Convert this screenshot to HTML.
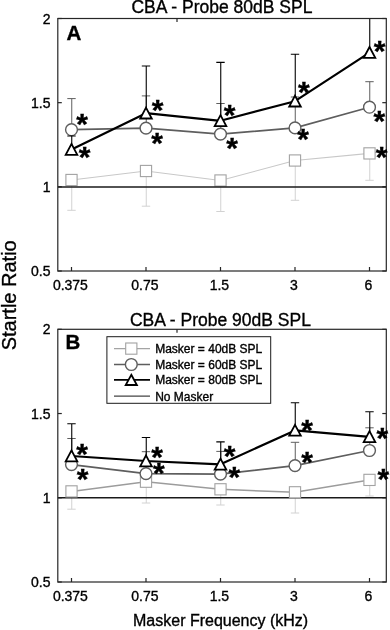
<!DOCTYPE html><html><head><meta charset="utf-8"><style>
html,body{margin:0;padding:0;background:#fff;width:390px;height:630px;overflow:hidden}
svg{display:block;will-change:transform}
text{font-family:"Liberation Sans",sans-serif;fill:#000;stroke:#000;stroke-width:.35px}
.ti{font-size:17.5px}
.tk{font-size:14px}
.lg{font-size:12px}
.xl{font-size:16px}
.yl{font-size:20px}
.pl{font-size:20.5px;font-weight:bold}
.st{font-size:30px;font-weight:bold;text-anchor:middle}
.ax{stroke:#262626;stroke-width:1.2;fill:none}
</style></head><body><svg width="390" height="630" viewBox="0 0 390 630"><rect width="390" height="630" fill="#fff"/><text x="221.9" y="12.8" class="ti" text-anchor="middle">CBA - Probe 80dB SPL</text><text x="50.5" y="23.5" class="tk" text-anchor="end">2</text><line x1="57.8" y1="18.50" x2="61.8" y2="18.50" class="ax"/><line x1="386.3" y1="18.50" x2="382.3" y2="18.50" class="ax"/><text x="50.5" y="107.7" class="tk" text-anchor="end">1.5</text><line x1="57.8" y1="102.67" x2="61.8" y2="102.67" class="ax"/><line x1="386.3" y1="102.67" x2="382.3" y2="102.67" class="ax"/><text x="50.5" y="191.8" class="tk" text-anchor="end">1</text><line x1="57.8" y1="186.83" x2="61.8" y2="186.83" class="ax"/><line x1="386.3" y1="186.83" x2="382.3" y2="186.83" class="ax"/><text x="50.5" y="276.0" class="tk" text-anchor="end">0.5</text><line x1="57.8" y1="271.00" x2="61.8" y2="271.00" class="ax"/><line x1="386.3" y1="271.00" x2="382.3" y2="271.00" class="ax"/><line x1="71.5" y1="271" x2="71.5" y2="267" class="ax"/><text x="70.4" y="289.5" class="tk" text-anchor="middle">0.375</text><line x1="146" y1="271" x2="146" y2="267" class="ax"/><text x="144.9" y="289.5" class="tk" text-anchor="middle">0.75</text><line x1="220.5" y1="271" x2="220.5" y2="267" class="ax"/><text x="219.4" y="289.5" class="tk" text-anchor="middle">1.5</text><line x1="295" y1="271" x2="295" y2="267" class="ax"/><text x="293.9" y="289.5" class="tk" text-anchor="middle">3</text><line x1="369.5" y1="271" x2="369.5" y2="267" class="ax"/><text x="368.4" y="289.5" class="tk" text-anchor="middle">6</text><line x1="177" y1="18.5" x2="177" y2="22.0" class="ax"/><clipPath id="cA"><rect x="57.8" y="18.5" width="328.5" height="252.5"/></clipPath><g clip-path="url(#cA)"><polyline points="71.5,180 146,171 220.5,180.5 295,160.5 369.5,153.4" fill="none" stroke="#c8c8c8" stroke-width="1.1"/><path d="M71.75 180V210.3M67.3 210.3H75.7" stroke="#d2d2d2" stroke-width="1" fill="none"/><path d="M146.25 171V206.2M141.8 206.2H150.2" stroke="#d2d2d2" stroke-width="1" fill="none"/><path d="M220.75 180.5V211.5M216.3 211.5H224.7" stroke="#d2d2d2" stroke-width="1" fill="none"/><path d="M295.25 160.5V200.3M290.8 200.3H299.2" stroke="#d2d2d2" stroke-width="1" fill="none"/><path d="M369.75 153.4V180.3M365.3 180.3H373.7" stroke="#d2d2d2" stroke-width="1" fill="none"/><rect x="65.9" y="174.4" width="11.2" height="11.2" fill="#fff" stroke="#a2a2a2" stroke-width="1.1"/><rect x="140.4" y="165.4" width="11.2" height="11.2" fill="#fff" stroke="#a2a2a2" stroke-width="1.1"/><rect x="214.9" y="174.9" width="11.2" height="11.2" fill="#fff" stroke="#a2a2a2" stroke-width="1.1"/><rect x="289.4" y="154.9" width="11.2" height="11.2" fill="#fff" stroke="#a2a2a2" stroke-width="1.1"/><rect x="363.9" y="147.8" width="11.2" height="11.2" fill="#fff" stroke="#a2a2a2" stroke-width="1.1"/><line x1="57.8" y1="187" x2="386.3" y2="187" stroke="#1a1a1a" stroke-width="1.6"/><polyline points="71.5,129.7 146,128.1 220.5,134.1 295,127.9 369.5,107.2" fill="none" stroke="#5e5e5e" stroke-width="1.7"/><path d="M71.75 129.7V98.6M67.3 98.6H75.7" stroke="#5e5e5e" stroke-width="1" fill="none"/><path d="M146.25 128.1V95.9M141.8 95.9H150.2" stroke="#5e5e5e" stroke-width="1" fill="none"/><path d="M220.75 134.1V103.5M216.3 103.5H224.7" stroke="#5e5e5e" stroke-width="1" fill="none"/><path d="M295.25 127.9V97M290.8 97H299.2" stroke="#5e5e5e" stroke-width="1" fill="none"/><path d="M369.75 107.2V81.7M365.3 81.7H373.7" stroke="#5e5e5e" stroke-width="1" fill="none"/><circle cx="71.5" cy="129.7" r="5.9" fill="#fff" stroke="#5e5e5e" stroke-width="1.4"/><circle cx="146" cy="128.1" r="5.9" fill="#fff" stroke="#5e5e5e" stroke-width="1.4"/><circle cx="220.5" cy="134.1" r="5.9" fill="#fff" stroke="#5e5e5e" stroke-width="1.4"/><circle cx="295" cy="127.9" r="5.9" fill="#fff" stroke="#5e5e5e" stroke-width="1.4"/><circle cx="369.5" cy="107.2" r="5.9" fill="#fff" stroke="#5e5e5e" stroke-width="1.4"/><polyline points="71.5,149.5 146,113.2 220.5,120.8 295,101.2 369.5,52.6" fill="none" stroke="#000" stroke-width="2.2" stroke-linejoin="round"/><path d="M71.75 149.5V136M67.3 136H75.7" stroke="#000" stroke-width="1.1" fill="none"/><path d="M146.25 113.2V66M141.8 66H150.2" stroke="#000" stroke-width="1.1" fill="none"/><path d="M220.75 120.8V62.4M216.3 62.4H224.7" stroke="#000" stroke-width="1.1" fill="none"/><path d="M295.25 101.2V54.3M290.8 54.3H299.2" stroke="#000" stroke-width="1.1" fill="none"/><path d="M369.75 52.6V10M365.3 10H373.7" stroke="#000" stroke-width="1.1" fill="none"/><path d="M71.5 143.9L77.3 154.8H65.7Z" fill="#fff" stroke="#000" stroke-width="1.8" stroke-linejoin="miter"/><path d="M146 107.60000000000001L151.8 118.5H140.2Z" fill="#fff" stroke="#000" stroke-width="1.8" stroke-linejoin="miter"/><path d="M220.5 115.2L226.3 126.1H214.7Z" fill="#fff" stroke="#000" stroke-width="1.8" stroke-linejoin="miter"/><path d="M295 95.60000000000001L300.8 106.5H289.2Z" fill="#fff" stroke="#000" stroke-width="1.8" stroke-linejoin="miter"/><path d="M369.5 47.0L375.3 57.9H363.7Z" fill="#fff" stroke="#000" stroke-width="1.8" stroke-linejoin="miter"/></g><rect x="57.8" y="18.5" width="328.5" height="252.5" fill="none" class="ax"/><text x="82.1" y="134.0" class="st">*</text><text x="84.7" y="167.2" class="st">*</text><text x="157.5" y="120.4" class="st">*</text><text x="157.1" y="152.8" class="st">*</text><text x="229.6" y="125.1" class="st">*</text><text x="232.0" y="157.5" class="st">*</text><text x="303.9" y="101.6" class="st">*</text><text x="303.0" y="148.8" class="st">*</text><text x="379.6" y="61.1" class="st">*</text><text x="379.3" y="131.1" class="st">*</text><text x="381.7" y="166.9" class="st">*</text><text x="66.6" y="39.6" class="pl">A</text><text x="220.4" y="325.5" class="ti" text-anchor="middle">CBA - Probe 90dB SPL</text><text x="50.5" y="334.3" class="tk" text-anchor="end">2</text><line x1="57.8" y1="329.30" x2="61.8" y2="329.30" class="ax"/><line x1="386.3" y1="329.30" x2="382.3" y2="329.30" class="ax"/><text x="50.5" y="418.5" class="tk" text-anchor="end">1.5</text><line x1="57.8" y1="413.53" x2="61.8" y2="413.53" class="ax"/><line x1="386.3" y1="413.53" x2="382.3" y2="413.53" class="ax"/><text x="50.5" y="502.8" class="tk" text-anchor="end">1</text><line x1="57.8" y1="497.77" x2="61.8" y2="497.77" class="ax"/><line x1="386.3" y1="497.77" x2="382.3" y2="497.77" class="ax"/><text x="50.5" y="587.0" class="tk" text-anchor="end">0.5</text><line x1="57.8" y1="582.00" x2="61.8" y2="582.00" class="ax"/><line x1="386.3" y1="582.00" x2="382.3" y2="582.00" class="ax"/><line x1="71.5" y1="582" x2="71.5" y2="578" class="ax"/><text x="70.4" y="600.5" class="tk" text-anchor="middle">0.375</text><line x1="146" y1="582" x2="146" y2="578" class="ax"/><text x="144.9" y="600.5" class="tk" text-anchor="middle">0.75</text><line x1="220.5" y1="582" x2="220.5" y2="578" class="ax"/><text x="219.4" y="600.5" class="tk" text-anchor="middle">1.5</text><line x1="295" y1="582" x2="295" y2="578" class="ax"/><text x="293.9" y="600.5" class="tk" text-anchor="middle">3</text><line x1="369.5" y1="582" x2="369.5" y2="578" class="ax"/><text x="368.4" y="600.5" class="tk" text-anchor="middle">6</text><line x1="177" y1="329.3" x2="177" y2="332.8" class="ax"/><clipPath id="cB"><rect x="57.8" y="329.3" width="328.5" height="252.7"/></clipPath><g clip-path="url(#cB)"><polyline points="71.5,491.4 146,481.7 220.5,489.3 295,492.3 369.5,479.9" fill="none" stroke="#9c9c9c" stroke-width="1.5"/><path d="M71.75 491.4V509.2M67.3 509.2H75.7" stroke="#d2d2d2" stroke-width="1" fill="none"/><path d="M146.25 481.7V503M141.8 503H150.2" stroke="#d2d2d2" stroke-width="1" fill="none"/><path d="M220.75 489.3V505M216.3 505H224.7" stroke="#d2d2d2" stroke-width="1" fill="none"/><path d="M295.25 492.3V513M290.8 513H299.2" stroke="#d2d2d2" stroke-width="1" fill="none"/><path d="M369.75 479.9V496M365.3 496H373.7" stroke="#d2d2d2" stroke-width="1" fill="none"/><line x1="57.8" y1="497.8" x2="386.3" y2="497.8" stroke="#1a1a1a" stroke-width="1.6"/><rect x="65.9" y="485.79999999999995" width="11.2" height="11.2" fill="#fff" stroke="#a2a2a2" stroke-width="1.1"/><rect x="140.4" y="476.09999999999997" width="11.2" height="11.2" fill="#fff" stroke="#a2a2a2" stroke-width="1.1"/><rect x="214.9" y="483.7" width="11.2" height="11.2" fill="#fff" stroke="#a2a2a2" stroke-width="1.1"/><rect x="289.4" y="486.7" width="11.2" height="11.2" fill="#fff" stroke="#a2a2a2" stroke-width="1.1"/><rect x="363.9" y="474.29999999999995" width="11.2" height="11.2" fill="#fff" stroke="#a2a2a2" stroke-width="1.1"/><polyline points="71.5,464.6 146,473.6 220.5,474.1 295,465.6 369.5,450.5" fill="none" stroke="#5e5e5e" stroke-width="1.7"/><path d="M71.75 464.6V438.5M67.3 438.5H75.7" stroke="#5e5e5e" stroke-width="1" fill="none"/><path d="M146.25 473.6V451.7M141.8 451.7H150.2" stroke="#5e5e5e" stroke-width="1" fill="none"/><path d="M220.75 474.1V451.4M216.3 451.4H224.7" stroke="#5e5e5e" stroke-width="1" fill="none"/><path d="M295.25 465.6V442.3M290.8 442.3H299.2" stroke="#5e5e5e" stroke-width="1" fill="none"/><path d="M369.75 450.5V427.8M365.3 427.8H373.7" stroke="#5e5e5e" stroke-width="1" fill="none"/><circle cx="71.5" cy="464.6" r="5.9" fill="#fff" stroke="#5e5e5e" stroke-width="1.4"/><circle cx="146" cy="473.6" r="5.9" fill="#fff" stroke="#5e5e5e" stroke-width="1.4"/><circle cx="220.5" cy="474.1" r="5.9" fill="#fff" stroke="#5e5e5e" stroke-width="1.4"/><circle cx="295" cy="465.6" r="5.9" fill="#fff" stroke="#5e5e5e" stroke-width="1.4"/><circle cx="369.5" cy="450.5" r="5.9" fill="#fff" stroke="#5e5e5e" stroke-width="1.4"/><polyline points="71.5,456.0 146,461.0 220.5,464.3 295,430.4 369.5,436.8" fill="none" stroke="#000" stroke-width="2.2" stroke-linejoin="round"/><path d="M71.75 456.0V423.7M67.3 423.7H75.7" stroke="#000" stroke-width="1.1" fill="none"/><path d="M146.25 461.0V437.5M141.8 437.5H150.2" stroke="#000" stroke-width="1.1" fill="none"/><path d="M220.75 464.3V441.9M216.3 441.9H224.7" stroke="#000" stroke-width="1.1" fill="none"/><path d="M295.25 430.4V402.7M290.8 402.7H299.2" stroke="#000" stroke-width="1.1" fill="none"/><path d="M369.75 436.8V411.8M365.3 411.8H373.7" stroke="#000" stroke-width="1.1" fill="none"/><path d="M71.5 450.4L77.3 461.3H65.7Z" fill="#fff" stroke="#000" stroke-width="1.8" stroke-linejoin="miter"/><path d="M146 455.4L151.8 466.3H140.2Z" fill="#fff" stroke="#000" stroke-width="1.8" stroke-linejoin="miter"/><path d="M220.5 458.7L226.3 469.6H214.7Z" fill="#fff" stroke="#000" stroke-width="1.8" stroke-linejoin="miter"/><path d="M295 424.79999999999995L300.8 435.7H289.2Z" fill="#fff" stroke="#000" stroke-width="1.8" stroke-linejoin="miter"/><path d="M369.5 431.2L375.3 442.1H363.7Z" fill="#fff" stroke="#000" stroke-width="1.8" stroke-linejoin="miter"/></g><rect x="57.8" y="329.3" width="328.5" height="252.7" fill="none" class="ax"/><text x="82.0" y="464.2" class="st">*</text><text x="82.5" y="489.1" class="st">*</text><text x="157.0" y="466.8" class="st">*</text><text x="158.9" y="482.9" class="st">*</text><text x="229.6" y="466.4" class="st">*</text><text x="234.3" y="487.2" class="st">*</text><text x="307.1" y="439.5" class="st">*</text><text x="307.1" y="471.5" class="st">*</text><text x="382.3" y="448.4" class="st">*</text><text x="383.3" y="489.0" class="st">*</text><text x="65.6" y="349.4" class="pl">B</text><rect x="106.9" y="336.7" width="163.79999999999998" height="66.60000000000002" fill="#fff" stroke="#1a1a1a" stroke-width="1"/><line x1="114" y1="348.6" x2="150" y2="348.6" stroke="#a4a4a4" stroke-width="1.4"/><rect x="125.70000000000002" y="343.0" width="11.2" height="11.2" fill="#fff" stroke="#a2a2a2" stroke-width="1.1"/><line x1="114" y1="364.5" x2="150" y2="364.5" stroke="#5e5e5e" stroke-width="1.7"/><circle cx="131.3" cy="364.5" r="5.9" fill="#fff" stroke="#5e5e5e" stroke-width="1.4"/><line x1="114" y1="379.9" x2="150" y2="379.9" stroke="#000" stroke-width="1.9"/><path d="M131.3 374.79999999999995L136.9 385.0H125.70000000000002Z" fill="#fff" stroke="#000" stroke-width="1.8"/><line x1="114" y1="396.2" x2="150" y2="396.2" stroke="#444" stroke-width="1.2"/><text x="155.2" y="352.9" class="lg">Masker = 40dB SPL</text><text x="155.2" y="368.8" class="lg">Masker = 60dB SPL</text><text x="155.2" y="384.2" class="lg">Masker = 80dB SPL</text><text x="155.2" y="400.5" class="lg">No Masker</text><text x="220.6" y="625.8" class="xl" text-anchor="middle">Masker Frequency (kHz)</text><text transform="translate(15.7 295.3) rotate(-90)" class="yl" text-anchor="middle">Startle Ratio</text></svg></body></html>
